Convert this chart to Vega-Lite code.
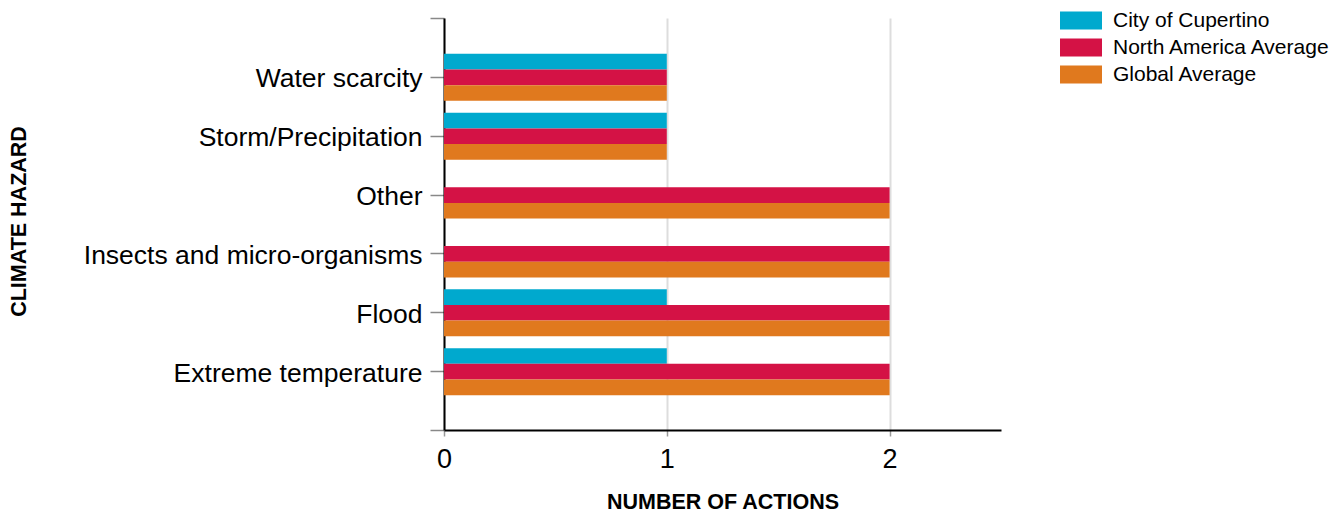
{
  "$schema": "https://vega.github.io/schema/vega-lite/v6.json",
  "width": 557,
  "height": 412,
  "autosize": {"type": "none"},
  "padding": {"left": 444, "top": 18, "right": 342, "bottom": 86},
  "background": "white",
  "config": {"font": "Liberation Sans", "view": {"stroke": null}},
  "data": {
    "values": [
      {"hazard": "Water scarcity", "series": "City of Cupertino", "actions": 1},
      {"hazard": "Water scarcity", "series": "North America Average", "actions": 1},
      {"hazard": "Water scarcity", "series": "Global Average", "actions": 1},
      {"hazard": "Storm/Precipitation", "series": "City of Cupertino", "actions": 1},
      {"hazard": "Storm/Precipitation", "series": "North America Average", "actions": 1},
      {"hazard": "Storm/Precipitation", "series": "Global Average", "actions": 1},
      {"hazard": "Other", "series": "City of Cupertino", "actions": 0},
      {"hazard": "Other", "series": "North America Average", "actions": 2},
      {"hazard": "Other", "series": "Global Average", "actions": 2},
      {"hazard": "Insects and micro-organisms", "series": "City of Cupertino", "actions": 0},
      {"hazard": "Insects and micro-organisms", "series": "North America Average", "actions": 2},
      {"hazard": "Insects and micro-organisms", "series": "Global Average", "actions": 2},
      {"hazard": "Flood", "series": "City of Cupertino", "actions": 1},
      {"hazard": "Flood", "series": "North America Average", "actions": 2},
      {"hazard": "Flood", "series": "Global Average", "actions": 2},
      {"hazard": "Extreme temperature", "series": "City of Cupertino", "actions": 1},
      {"hazard": "Extreme temperature", "series": "North America Average", "actions": 2},
      {"hazard": "Extreme temperature", "series": "Global Average", "actions": 2}
    ]
  },
  "mark": {"type": "bar"},
  "encoding": {
    "y": {
      "field": "hazard",
      "type": "nominal",
      "scale": {
        "type": "point",
        "padding": 0,
        "domain": ["", "Water scarcity", "Storm/Precipitation", "Other", "Insects and micro-organisms", "Flood", "Extreme temperature", " "]
      },
      "axis": {
        "title": "CLIMATE HAZARD",
        "titleFontSize": 21.5,
        "titleFontWeight": "bold",
        "titleColor": "black",
        "titleAngle": -90,
        "titleX": -419,
        "titleY": 203,
        "titleAlign": "center",
        "titleBaseline": "alphabetic",
        "labelFontSize": 26.5,
        "labelColor": "black",
        "labelPadding": 8,
        "labelOffset": 2,
        "labelLimit": 500,
        "tickSize": 14,
        "tickColor": "#888888",
        "tickWidth": 1.5,
        "domainColor": "black",
        "domainWidth": 2,
        "grid": false
      }
    },
    "yOffset": {
      "field": "series",
      "type": "nominal",
      "scale": {
        "domain": ["City of Cupertino", "North America Average", "Global Average"],
        "range": [-23, 24],
        "paddingInner": 0,
        "paddingOuter": 0
      }
    },
    "x": {
      "field": "actions",
      "type": "quantitative",
      "scale": {"domain": [0, 2.5], "nice": false},
      "axis": {
        "values": [0, 1, 2],
        "grid": true,
        "gridColor": "#dddddd",
        "gridWidth": 2,
        "domainColor": "black",
        "domainWidth": 2,
        "tickColor": "#999999",
        "tickWidth": 1.5,
        "tickSize": 6,
        "labelFontSize": 27,
        "labelColor": "black",
        "labelPadding": 10,
        "labelFlush": false,
        "title": "NUMBER OF ACTIONS",
        "titleFontSize": 21.5,
        "titleFontWeight": "bold",
        "titleColor": "black",
        "titleY": 78,
        "titleBaseline": "alphabetic"
      }
    },
    "color": {
      "field": "series",
      "type": "nominal",
      "scale": {
        "domain": ["City of Cupertino", "North America Average", "Global Average"],
        "range": ["#00A9CE", "#D41245", "#E0791E"]
      },
      "legend": {
        "title": null,
        "orient": "none",
        "legendX": 616,
        "legendY": -8,
        "labelFontSize": 21,
        "labelColor": "black",
        "labelOffset": 32,
        "labelLimit": 400,
        "symbolType": "M-1,-0.857H3V0.857H-1Z",
        "symbolSize": 441,
        "symbolStrokeWidth": 0,
        "symbolOpacity": 1,
        "rowPadding": 5
      }
    }
  }
}
